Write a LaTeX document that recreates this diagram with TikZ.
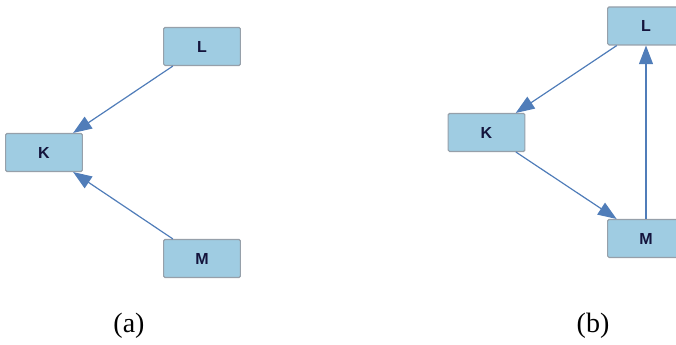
\documentclass[tikz,border=0pt]{standalone}
\usepackage{fontspec}
\setmainfont{Liberation Serif}
\newfontfamily\boxfont{Liberation Sans}
\usetikzlibrary{arrows.meta}
\definecolor{boxfill}{RGB}{159,204,226}
\definecolor{boxline}{RGB}{150,160,170}
\definecolor{edgeblue}{RGB}{80,125,185}
\definecolor{labelink}{RGB}{20,20,60}
\tikzset{
  var/.style={draw=boxline, line width=0.8pt, fill=boxfill, rounded corners=1pt,
    minimum width=57.5pt, minimum height=28.5pt, inner sep=0pt,
    font=\boxfont\bfseries\fontsize{12}{14}\selectfont, text=labelink},
  link/.style={draw=edgeblue, line width=0.9pt,
    -{Triangle[length=14pt,width=10.5pt]}},
  panelcaption/.style={font=\fontsize{21}{24}\selectfont}
}
\begin{document}
\begin{tikzpicture}[x=0.75pt, y=-0.75pt]
  \useasboundingbox (0,0) rectangle (676,345);
  \clip (0,0) rectangle (676,345);
  % panel (a): two causes pointing to K
  \node[var] (La) at (202,46.5) {L};
  \node[var] (Ka) at (44,152.5) {K};
  \node[var] (Ma) at (202,258.5) {M};
  \draw[link] (La) -- (Ka);
  \draw[link] (Ma) -- (Ka);
  \node[panelcaption] (capa) at (129,326) {(a)};
  % panel (b): a directed cycle L -> K -> M -> L
  \node[var] (Lb) at (646,26) {L};
  \node[var] (Kb) at (486.5,132.5) {K};
  \node[var] (Mb) at (646,238.5) {M};
  \draw[link] (Lb) -- (Kb);
  \draw[link] (Kb) -- (Mb);
  \draw[link] (Mb) -- (Lb);
  \node[panelcaption] (capb) at (593,326) {(b)};
\end{tikzpicture}
\end{document}
